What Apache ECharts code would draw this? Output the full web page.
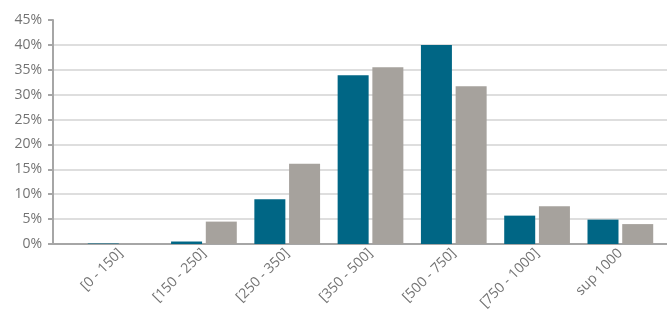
<!DOCTYPE html>
<html>
<head>
<meta charset="utf-8">
<script src="https://cdn.jsdelivr.net/npm/echarts@6/dist/echarts.min.js"></script>
<style>
  html, body { margin: 0; padding: 0; background: #fff; }
  #chart { width: 667px; height: 320px; }
</style>
</head>
<body>
<div id="chart"></div>
<script>
  // categories and values (percent)
  var categories = ['[0 - 150]', '[150 - 250]', '[250 - 350]', '[350 - 500]', '[500 - 750]', '[750 - 1000]', 'sup 1000'];
  var blueValues = [0.1, 0.5, 9.0, 33.9, 40.0, 5.7, 4.9];
  var grayValues = [0.0, 4.5, 16.1, 35.5, 31.7, 7.6, 4.0];

  var textColor = '#737373';
  var fontFamily = '"Open Sans", "DejaVu Sans", sans-serif';

  var myChart = echarts.init(document.getElementById('chart'));
  myChart.setOption({
    animation: false,
    grid: [
      // background grid: gridlines 0..40 only
      { left: 53, right: 0, top: 44.9, bottom: 76 },
      // bars
      { left: 79, right: 5, top: 20, bottom: 76 }
    ],
    xAxis: [{
      gridIndex: 0,
      type: 'value',
      min: 0, max: 1,
      axisLine: { show: true, onZero: false, lineStyle: { color: '#a6a6a6', width: 2 } },
      axisTick: { show: false },
      axisLabel: { show: false },
      splitLine: { show: false }
    }, {
      gridIndex: 1,
      type: 'category',
      data: categories,
      axisLine: { show: false },
      axisTick: { show: false },
      axisLabel: {
        rotate: 45,
        margin: 7,
        interval: 0,
        color: textColor,
        fontSize: 14,
        fontFamily: fontFamily
      }
    }],
    yAxis: [{
      gridIndex: 0,
      type: 'value',
      min: 0, max: 40, interval: 5,
      axisLine: { show: false },
      axisTick: { show: false },
      axisLabel: { show: false },
      splitLine: { lineStyle: { color: '#dedede', width: 2 } }
    }, {
      gridIndex: 1,
      type: 'value',
      min: 0, max: 45, interval: 5,
      offset: 26,
      axisLine: { show: true, lineStyle: { color: '#a6a6a6', width: 2 } },
      axisTick: { show: true, length: 5, lineStyle: { color: '#a6a6a6', width: 2 } },
      axisLabel: {
        formatter: '{value}%',
        margin: 11,
        color: textColor,
        fontSize: 14,
        fontFamily: fontFamily
      },
      splitLine: { show: false }
    }],
    series: [{
      type: 'bar',
      xAxisIndex: 1,
      yAxisIndex: 1,
      barWidth: 31,
      barGap: '12%',
      itemStyle: { color: '#006685' },
      data: blueValues
    }, {
      type: 'bar',
      xAxisIndex: 1,
      yAxisIndex: 1,
      barWidth: 31,
      barGap: '12%',
      itemStyle: { color: '#a6a29d' },
      data: grayValues
    }]
  });
</script>
</body>
</html>
